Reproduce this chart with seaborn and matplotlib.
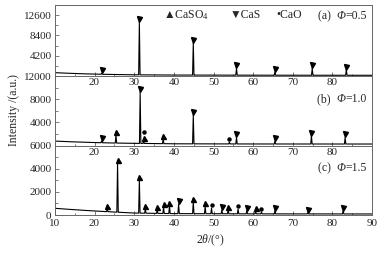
import numpy as np
import pandas as pd
import seaborn as sns
import matplotlib
matplotlib.use("Agg")
from matplotlib import pyplot as plt
from matplotlib.transforms import offset_copy
from matplotlib.ticker import FixedLocator

# background points (2theta, intensity)
bg_theta = [10, 14, 18, 22, 26, 30, 40, 60, 90]
bg_a = [700, 560, 450, 370, 310, 260, 210, 180, 160]
bg_b = [770, 650, 560, 480, 420, 380, 300, 270, 260]
bg_c = [580, 480, 390, 310, 240, 170, 120, 100, 90]

# peaks: position, height, phase
pos_a = [21.8, 31.3, 44.9, 55.8, 65.5, 74.9, 83.5]
h_a = [550, 11200, 6800, 1600, 900, 1600, 1300]
ph_a = ["CaS", "CaS", "CaS", "CaS", "CaS", "CaS", "CaS"]

pos_b = [21.8, 25.4, 31.5, 32.4, 37.3, 44.9, 54.0, 55.8, 65.5, 74.7, 83.2]
h_b = [800, 1800, 9240, 700, 1200, 5240, 600, 1380, 800, 1630, 1380]
ph_b = ["CaS", "CaSO4", "CaS", "CaSO4+CaO", "CaSO4", "CaS", "CaO", "CaS", "CaS", "CaS", "CaS"]

pos_c = [23.2, 25.8, 31.3, 32.8, 35.8, 37.4, 38.9, 41.2, 44.9, 47.9, 49.5,
         52.1, 53.7, 56.2, 58.4, 60.6, 62.1, 65.5, 73.8, 82.7]
h_c = [480, 4500, 3040, 500, 450, 650, 800, 950, 1100, 750, 600,
       430, 450, 500, 370, 350, 250, 370, 200, 370]
ph_c = ["CaSO4", "CaSO4", "CaSO4", "CaSO4", "CaSO4", "CaSO4", "CaSO4", "CaS", "CaSO4", "CaSO4", "CaO",
        "CaS", "CaSO4", "CaO", "CaS", "CaSO4", "CaO", "CaS", "CaS", "CaS"]

panel_tags = ["(a)", "(b)", "(c)"]
phi_values = ["=0.5", "=1.0", "=1.5"]
y_lims = [14700, 12000, 6000]
y_ticks = [[4200, 8400, 12600], [4000, 8000, 12000], [0, 2000, 4000, 6000]]
y_tick_labels = [["4200", "8400", "12600"], ["4000", "8000", "12000"], ["0", "2000", "4000", "6000"]]
x_ticks = [10, 20, 30, 40, 50, 60, 70, 80, 90]


def profile(bg, pos, h):
    """builds the pattern as background points plus one narrow spike per peak"""
    xs = list(bg_theta)
    ys = list(bg)
    for p, v in zip(pos, h):
        base = np.interp(p, bg_theta, bg)
        xs += [p - 0.18, p, p + 0.18]
        ys += [base, v, base]
    return pd.DataFrame({"theta": xs, "I": ys})


sns.set_style("ticks")
plt.rcParams["font.family"] = ["Liberation Serif", "DejaVu Serif"]
plt.rcParams["mathtext.fontset"] = "custom"
plt.rcParams["mathtext.rm"] = "Liberation Serif"
plt.rcParams["mathtext.it"] = "Liberation Serif:italic"
plt.rcParams["font.size"] = 8

fig, axs = plt.subplots(3, 1, figsize=(3.84, 2.54), dpi=100,
                        gridspec_kw={"height_ratios": [71, 69.5, 69.5], "hspace": 0})
fig.subplots_adjust(left=0.143, right=0.969, top=0.980, bottom=0.1535)

marks = {"CaSO4": "^", "CaS": "v", "CaO": "o"}
data = [(bg_a, pos_a, h_a, ph_a), (bg_b, pos_b, h_b, ph_b), (bg_c, pos_c, h_c, ph_c)]
frame = "#666666"

for i, ax in enumerate(axs):
    bg, pos, h, ph = data[i]
    ax.set_facecolor("none")
    sns.lineplot(data=profile(bg, pos, h), x="theta", y="I", ax=ax,
                 color="black", lw=0.8, estimator=None)

    # phase markers just above each peak
    for p, v, name in zip(pos, h, ph):
        for k, part in enumerate(name.split("+")):
            tr = offset_copy(ax.transData, fig=fig, y=2.2 + 4.5 * k, units="points")
            ms = 2.2 if part == "CaO" else 3.6
            ax.plot(p, v, marks[part], color="black", ms=ms, transform=tr, clip_on=False)

    ax.set_xlim(10, 90)
    ax.set_ylim(0, y_lims[i])
    ax.set_xlabel("")
    ax.set_ylabel("")
    step = y_ticks[i][1] - y_ticks[i][0]
    ax.yaxis.set_major_locator(FixedLocator(y_ticks[i]))
    ax.set_yticklabels(y_tick_labels[i])
    ax.yaxis.set_minor_locator(FixedLocator([t + step / 2 for t in [y_ticks[i][0] - step] + y_ticks[i]]))
    ax.xaxis.set_major_locator(FixedLocator(x_ticks))
    ax.xaxis.set_minor_locator(FixedLocator([t + 5 for t in x_ticks[:-1]]))
    if i < 2:
        ax.set_xticklabels([""] + [str(t) for t in x_ticks[1:-1]] + [""])
        ax.tick_params(axis="x", pad=1.5)
    else:
        ax.set_xticklabels([str(t) for t in x_ticks])
        ax.tick_params(axis="x", pad=3)
    ax.tick_params(axis="both", which="both", direction="in", labelsize=8, color=frame, width=0.6)
    ax.tick_params(axis="both", which="major", length=3)
    ax.tick_params(axis="both", which="minor", length=1.8)
    ax.tick_params(axis="y", pad=2.5)
    for side in ["left", "right", "bottom", "top"]:
        ax.spines[side].set_color(frame)
        ax.spines[side].set_linewidth(0.7)
    if i > 0:
        ax.spines["top"].set_visible(False)

    # panel label: "(a)  Φ=0.5" with italic Φ
    yy = 0.845 if i == 0 else 0.67
    t_val = ax.text(0.984, yy, phi_values[i], transform=ax.transAxes,
                    ha="right", va="center", fontsize=8.5)
    t_phi = ax.annotate("Φ", xy=(0, 0.5), xycoords=t_val, ha="right", va="center",
                        fontsize=8.5, fontstyle="italic")
    ax.annotate(panel_tags[i] + "  ", xy=(0, 0.5), xycoords=t_phi, ha="right", va="center",
                fontsize=8.5)

# legend of phases in panel (a)
axs[0].text(0.341, 0.86, "▲CaSO$_4$", transform=axs[0].transAxes, ha="left", va="center", fontsize=8.5)
axs[0].text(0.552, 0.86, "▼CaS", transform=axs[0].transAxes, ha="left", va="center", fontsize=8.5)
axs[0].text(0.697, 0.86, "•CaO", transform=axs[0].transAxes, ha="left", va="center", fontsize=8.5)

fig.text(14 / 384, 1 - 110 / 254, "Intensity /(a.u.)", rotation=90, ha="center", va="center", fontsize=8.5)
fig.text(210 / 384, 1 - 240 / 254, "2$\\theta$/(°)", ha="center", va="center", fontsize=8.5)

plt.savefig("out.png", dpi=100)
